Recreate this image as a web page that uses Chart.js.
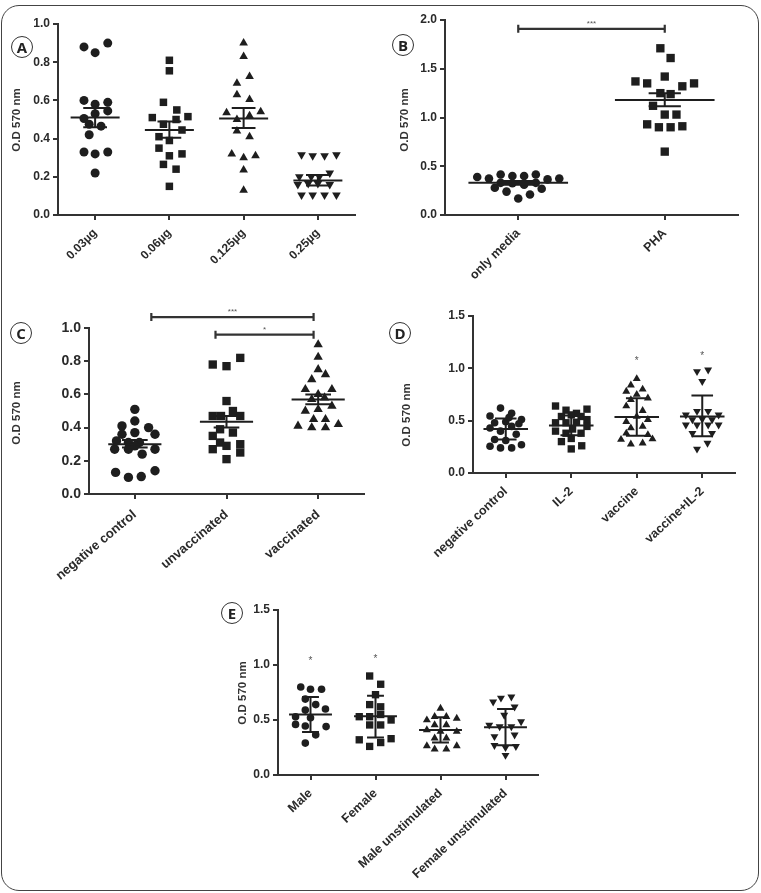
<!DOCTYPE html>
<html>
<head>
<meta charset="utf-8">
<script src="https://cdn.jsdelivr.net/npm/chart.js@4.4.0/dist/chart.umd.min.js"></script>
<style>
  html, body { margin:0; padding:0; background:#fff; }
  body { width:761px; height:893px; position:relative; overflow:hidden; }
  .frame { position:absolute; left:1px; top:5px; width:758px; height:886px; border:1.5px solid #444; border-radius:18px; box-sizing:border-box; }
  canvas { position:absolute; }
  .tag { position:absolute; width:20px; height:20px; border:1.5px solid #333; border-radius:50%;
         font-family:"Open Sans", sans-serif; font-weight:700; font-size:15px; line-height:20px;
         text-align:center; color:#222; background:#fff; }
</style>
</head>
<body>
<div class="frame"></div>
<canvas id="cA" width="380" height="280" style="left:0px;top:0px"></canvas>
<canvas id="cB" width="380" height="300" style="left:380px;top:0px"></canvas>
<canvas id="cC" width="380" height="300" style="left:0px;top:295px"></canvas>
<canvas id="cD" width="380" height="300" style="left:380px;top:295px"></canvas>
<canvas id="cE" width="360" height="295" style="left:200px;top:595px"></canvas>
<div class="tag" style="left:11px;top:36px">A</div>
<div class="tag" style="left:392px;top:34px">B</div>
<div class="tag" style="left:10px;top:322px">C</div>
<div class="tag" style="left:389px;top:322px">D</div>
<div class="tag" style="left:221px;top:602px">E</div>
<script>
// ---------------- DATA ----------------
// Panel A
const A_categories = ['0.03µg', '0.06µg', '0.125µg', '0.25µg'];
const A_g1 = [0.88,0.85,0.90,0.60,0.58,0.59,0.545,0.505,0.53,0.475,0.465,0.42,0.33,0.32,0.33,0.22];
const A_g1_jitter = [-0.15,0,0.17,-0.15,0,0.17,0.17,-0.15,0,-0.08,0.08,-0.08,-0.15,0,0.17,0];
const A_g2 = [0.81,0.755,0.59,0.55,0.51,0.515,0.475,0.50,0.445,0.41,0.39,0.35,0.31,0.32,0.265,0.24,0.15];
const A_g2_jitter = [0,0,-0.08,0.1,-0.23,0.25,-0.08,0.09,0.17,-0.14,0,-0.14,0,0.17,-0.08,0.09,0];
const A_g3 = [0.90,0.83,0.725,0.69,0.63,0.605,0.535,0.54,0.52,0.50,0.44,0.41,0.32,0.30,0.31,0.235,0.13];
const A_g3_jitter = [0,0,0.08,-0.09,-0.09,0.08,-0.23,0.23,0.08,-0.09,-0.09,0.08,-0.16,0,0.16,0,0];
const A_g4 = [0.315,0.31,0.31,0.315,0.22,0.20,0.20,0.20,0.16,0.165,0.165,0.16,0.105,0.105,0.105,0.105];
const A_g4_jitter = [-0.22,-0.07,0.09,0.25,0.16,-0.25,-0.09,0.02,-0.27,-0.13,0,0.16,-0.22,-0.07,0.09,0.25];
const A_mean = [0.51, 0.445, 0.505, 0.18];
const A_errLow = [0.46, 0.405, 0.455, 0.155];
const A_errHigh = [0.56, 0.49, 0.56, 0.21];
const A_yTicks = [0, 0.2, 0.4, 0.6, 0.8, 1.0];

// Panel B
const B_categories = ['only media', 'PHA'];
const B_g1 = [0.39,0.375,0.415,0.40,0.40,0.415,0.365,0.375,0.33,0.325,0.31,0.33,0.28,0.24,0.17,0.21,0.27];
const B_g1_jitter = [-0.28,-0.2,-0.12,-0.04,0.04,0.12,0.2,0.28,-0.12,-0.04,0.04,0.12,-0.16,-0.08,0,0.08,0.16];
const B_g2 = [1.71,1.61,1.42,1.37,1.35,1.35,1.32,1.25,1.24,1.12,1.03,1.03,0.93,0.90,0.90,0.91,0.65];
const B_g2_jitter = [-0.03,0.04,0,-0.2,-0.12,0.2,0.12,-0.03,0.04,-0.08,0,0.08,-0.12,-0.04,0.04,0.12,0];
const B_mean = [0.33, 1.18];
const B_errLow = [0.31, 1.115];
const B_errHigh = [0.35, 1.25];
const B_yTicks = [0, 0.5, 1.0, 1.5, 2.0];
const B_brackets = [{ from: 0, to: 1, y: 1.91, label: '***' }];

// Panel C
const C_categories = ['negative control', 'unvaccinated', 'vaccinated'];
const C_g1 = [0.51,0.41,0.44,0.40,0.36,0.37,0.36,0.32,0.31,0.31,0.27,0.27,0.29,0.27,0.24,0.13,0.10,0.105,0.14];
const C_g1_jitter = [0,-0.14,0,0.15,-0.14,0,0.22,-0.2,-0.07,0.05,-0.22,-0.07,0,0.22,0.08,-0.21,-0.07,0.07,0.22];
const C_g2 = [0.78,0.77,0.82,0.56,0.47,0.47,0.50,0.47,0.39,0.37,0.35,0.31,0.27,0.29,0.30,0.25,0.21];
const C_g2_jitter = [-0.15,0,0.15,0,-0.15,-0.06,0.07,0.15,-0.07,0.07,-0.15,-0.07,-0.15,0,0.15,0.15,0];
const C_g3 = [0.90,0.825,0.75,0.72,0.69,0.63,0.63,0.60,0.57,0.58,0.50,0.53,0.51,0.45,0.45,0.41,0.40,0.40,0.42];
const C_g3_jitter = [0,0,0,0.08,-0.07,-0.14,0.15,0,-0.07,0.07,-0.14,0.15,0,-0.05,0.08,-0.22,-0.07,0.08,0.22];
const C_mean = [0.30, 0.435, 0.57];
const C_errLow = [0.28, 0.40, 0.54];
const C_errHigh = [0.325, 0.47, 0.60];
const C_yTicks = [0, 0.2, 0.4, 0.6, 0.8, 1.0];
const C_brackets = [{ from: 0.18, to: 1.95, y: 1.066, label: '***' }, { from: 0.88, to: 1.95, y: 0.96, label: '*' }];

// Panel D
const D_categories = ['negative control', 'IL-2', 'vaccine', 'vaccine+IL-2'];
const D_g1 = [0.62,0.545,0.57,0.51,0.48,0.49,0.445,0.43,0.40,0.37,0.32,0.31,0.255,0.24,0.24,0.27,0.53,0.47];
const D_g1_jitter = [-0.08,-0.24,0.09,0.24,-0.17,0,0.09,-0.24,-0.08,0.16,-0.17,0,-0.24,-0.08,0.09,0.24,0.05,0.2];
const D_g2 = [0.64,0.60,0.57,0.61,0.54,0.555,0.54,0.48,0.48,0.485,0.51,0.40,0.38,0.38,0.30,0.33,0.26,0.23,0.445,0.42];
const D_g2_jitter = [-0.24,-0.08,0.08,0.24,-0.15,0,0.15,-0.24,-0.08,0.08,0.24,-0.24,-0.08,0.15,-0.15,0,0.16,0,0.24,0.02];
const D_g3 = [0.90,0.84,0.78,0.80,0.75,0.70,0.715,0.64,0.595,0.54,0.49,0.51,0.43,0.445,0.38,0.365,0.32,0.325,0.275,0.285];
const D_g3_jitter = [0,-0.09,-0.16,0.09,0,-0.09,0.17,-0.16,0.09,0,-0.16,0.17,-0.09,0.09,-0.16,0.17,-0.24,0.24,-0.09,0.09];
const D_g4 = [0.97,0.985,0.875,0.59,0.59,0.555,0.555,0.51,0.515,0.51,0.46,0.46,0.46,0.46,0.38,0.38,0.285,0.23];
const D_g4_jitter = [-0.08,0.09,0,-0.08,0.09,-0.25,0.25,-0.15,0,0.15,-0.25,-0.08,0.09,0.25,-0.15,0.15,0.08,-0.08];
const D_mean = [0.42, 0.455, 0.535, 0.54];
const D_errLow = [0.32, 0.36, 0.355, 0.35];
const D_errHigh = [0.52, 0.55, 0.715, 0.74];
const D_yTicks = [0, 0.5, 1.0, 1.5];
const D_stars = [{ cat: 2, y: 1.07, label: '*' }, { cat: 3, y: 1.12, label: '*' }];

// Panel E
const E_categories = ['Male', 'Female', 'Male unstimulated', 'Female unstimulated'];
const E_g1 = [0.80,0.78,0.78,0.69,0.64,0.59,0.60,0.53,0.52,0.46,0.445,0.44,0.365,0.29];
const E_g1_jitter = [-0.15,0,0.17,-0.08,0.08,-0.08,0.23,-0.23,0,-0.23,-0.08,0.24,0.08,-0.08];
const E_g2 = [0.90,0.825,0.73,0.64,0.62,0.53,0.53,0.55,0.50,0.455,0.455,0.32,0.295,0.33,0.26];
const E_g2_jitter = [-0.09,0.08,0,-0.09,0.08,-0.25,-0.09,0.08,0.24,-0.09,0.08,-0.25,0.08,0.24,-0.09];
const E_g3 = [0.605,0.50,0.53,0.53,0.515,0.455,0.455,0.41,0.395,0.395,0.335,0.335,0.265,0.235,0.235,0.265];
const E_g3_jitter = [0,-0.21,-0.09,0.09,0.25,-0.09,0.09,-0.21,0,0.25,-0.09,0.09,-0.21,-0.09,0.09,0.25];
const E_g4 = [0.70,0.71,0.665,0.62,0.545,0.455,0.44,0.44,0.485,0.365,0.35,0.27,0.26,0.25,0.18];
const E_g4_jitter = [-0.07,0.09,-0.19,0.14,-0.02,-0.25,-0.09,0.09,0.24,0.14,-0.17,-0.17,0.16,0,0];
const E_mean = [0.55, 0.535, 0.41, 0.435];
const E_errLow = [0.39, 0.34, 0.295, 0.27];
const E_errHigh = [0.71, 0.72, 0.525, 0.60];
const E_yTicks = [0, 0.5, 1.0, 1.5];
const E_stars = [{ cat: 0, y: 1.03, label: '*' }, { cat: 1, y: 1.055, label: '*' }];

const yTitle = 'O.D 570 nm';

// ---------------- DRAWING ----------------
const INK = '#1e1e1e';
const AXIS = '#333';
const FONT = '"Liberation Sans", Arial, sans-serif';

const extrasPlugin = {
  id: 'extras',
  afterDatasetsDraw(chart, args, o) {
    const ctx = chart.ctx, xs = chart.scales.x, ys = chart.scales.y;
    ctx.save();
    ctx.strokeStyle = INK;
    ctx.lineWidth = 2;
    o.mean.forEach((m, i) => {
      const yM = ys.getPixelForValue(m);
      ctx.beginPath();
      ctx.moveTo(xs.getPixelForValue(i - o.meanHalf), yM);
      ctx.lineTo(xs.getPixelForValue(i + o.meanHalf), yM);
      const xc = xs.getPixelForValue(i);
      const yl = ys.getPixelForValue(o.errLow[i]), yh = ys.getPixelForValue(o.errHigh[i]);
      ctx.moveTo(xc, yl); ctx.lineTo(xc, yh);
      ctx.moveTo(xs.getPixelForValue(i - o.capHalf), yl); ctx.lineTo(xs.getPixelForValue(i + o.capHalf), yl);
      ctx.moveTo(xs.getPixelForValue(i - o.capHalf), yh); ctx.lineTo(xs.getPixelForValue(i + o.capHalf), yh);
      ctx.stroke();
    });
    ctx.restore();
  },
  afterDraw(chart, args, o) {
    const ctx = chart.ctx, xs = chart.scales.x, ys = chart.scales.y;
    ctx.save();
    ctx.translate(o.titleX, o.titleY);
    ctx.rotate(-Math.PI / 2);
    ctx.fillStyle = AXIS;
    ctx.font = 'bold ' + o.titleSize + 'px ' + FONT;
    ctx.textAlign = 'center';
    ctx.textBaseline = 'middle';
    ctx.fillText(yTitle, 0, 0);
    ctx.restore();
    ctx.save();
    ctx.strokeStyle = '#333';
    ctx.fillStyle = '#555';
    (o.brackets || []).forEach(b => {
      const x1 = xs.getPixelForValue(b.from), x2 = xs.getPixelForValue(b.to), y = ys.getPixelForValue(b.y);
      ctx.lineWidth = 2.2;
      ctx.beginPath();
      ctx.moveTo(x1, y); ctx.lineTo(x2, y);
      ctx.moveTo(x1, y - 4); ctx.lineTo(x1, y + 4);
      ctx.moveTo(x2, y - 4); ctx.lineTo(x2, y + 4);
      ctx.stroke();
      ctx.font = '8px ' + FONT;
      ctx.textAlign = 'center';
      ctx.textBaseline = 'bottom';
      ctx.fillText(b.label, (x1 + x2) / 2, y - 1);
    });
    (o.stars || []).forEach(s => {
      ctx.font = '10px ' + FONT;
      ctx.textAlign = 'center';
      ctx.textBaseline = 'middle';
      ctx.fillText(s.label, xs.getPixelForValue(s.cat), ys.getPixelForValue(s.y));
    });
    ctx.restore();
  }
};

function makePanel(id, p) {
  const styles = ['circle', 'rect', 'triangle', 'triangle'];
  const rotations = [0, 0, 0, 180];
  const datasets = p.groups.map((g, i) => ({
    data: g.map((v, k) => ({ x: i + p.jitters[i][k], y: v })),
    pointStyle: styles[i],
    pointRotation: rotations[i],
    pointRadius: p.radius[i],
    pointBackgroundColor: INK,
    pointBorderColor: INK,
    pointBorderWidth: 0,
    showLine: false
  }));
  const n = p.categories.length;
  new Chart(document.getElementById(id), {
    type: 'scatter',
    data: { datasets },
    options: {
      responsive: false,
      animation: false,
      events: [],
      clip: false,
      layout: { padding: { left: 0, top: p.padTop, right: p.padRight, bottom: 0 } },
      plugins: {
        legend: { display: false },
        tooltip: { enabled: false },
        extras: {
          mean: p.mean, errLow: p.errLow, errHigh: p.errHigh,
          meanHalf: p.meanHalf, capHalf: p.capHalf,
          brackets: p.brackets, stars: p.stars,
          titleX: p.titleX, titleY: p.titleY, titleSize: 11.5
        }
      },
      scales: {
        x: {
          type: 'linear', min: -0.5, max: n - 0.5,
          afterBuildTicks: s => { s.ticks = p.categories.map((c, i) => ({ value: i })); },
          afterFit: s => { s.height = p.xHeight; },
          border: { display: true, color: AXIS, width: 2 },
          grid: { display: true, drawOnChartArea: false, drawTicks: true, tickLength: 5, color: AXIS, lineWidth: 2 },
          ticks: {
            autoSkip: false, minRotation: p.rot, maxRotation: p.rot, padding: p.xPad,
            color: '#2a2a2a', font: { family: FONT, weight: 'bold', size: p.xFont },
            callback: v => p.categories[v]
          }
        },
        y: {
          min: 0, max: p.yTicks[p.yTicks.length - 1],
          afterBuildTicks: s => { s.ticks = p.yTicks.map(v => ({ value: v })); },
          afterFit: s => { s.width = p.yWidth; },
          border: { display: true, color: AXIS, width: 2 },
          grid: { display: true, drawOnChartArea: false, drawTicks: true, tickLength: 5, color: AXIS, lineWidth: 2 },
          ticks: {
            padding: 3, color: '#2a2a2a', font: { family: FONT, weight: 'bold', size: p.yFont },
            callback: v => Number(v).toFixed(1)
          }
        }
      }
    },
    plugins: [extrasPlugin]
  });
}

makePanel('cA', {
  categories: A_categories, groups: [A_g1, A_g2, A_g3, A_g4],
  jitters: [A_g1_jitter, A_g2_jitter, A_g3_jitter, A_g4_jitter],
  mean: A_mean, errLow: A_errLow, errHigh: A_errHigh, yTicks: A_yTicks,
  meanHalf: 0.33, capHalf: 0.16, radius: [4.5, 5.3, 5, 5],
  padTop: 24, padRight: 25, yWidth: 58, xHeight: 65,
  rot: 45, xPad: 6, xFont: 12, yFont: 12, titleX: 17, titleY: 120
});
makePanel('cB', {
  categories: B_categories, groups: [B_g1, B_g2],
  jitters: [B_g1_jitter, B_g2_jitter],
  mean: B_mean, errLow: B_errLow, errHigh: B_errHigh, yTicks: B_yTicks,
  brackets: B_brackets,
  meanHalf: 0.34, capHalf: 0.11, radius: [4.3, 5.9],
  padTop: 20, padRight: 22, yWidth: 65, xHeight: 85,
  rot: 45, xPad: 6, xFont: 12.5, yFont: 12, titleX: 25, titleY: 120
});
makePanel('cC', {
  categories: C_categories, groups: [C_g1, C_g2, C_g3],
  jitters: [C_g1_jitter, C_g2_jitter, C_g3_jitter],
  mean: C_mean, errLow: C_errLow, errHigh: C_errHigh, yTicks: C_yTicks,
  brackets: C_brackets,
  meanHalf: 0.29, capHalf: 0.14, radius: [4.7, 5.9, 5.4],
  padTop: 33, padRight: 16, yWidth: 89, xHeight: 101,
  rot: 40, xPad: 8, xFont: 13, yFont: 14, titleX: 17, titleY: 118
});
makePanel('cD', {
  categories: D_categories, groups: [D_g1, D_g2, D_g3, D_g4],
  jitters: [D_g1_jitter, D_g2_jitter, D_g3_jitter, D_g4_jitter],
  mean: D_mean, errLow: D_errLow, errHigh: D_errHigh, yTicks: D_yTicks,
  stars: D_stars,
  meanHalf: 0.34, capHalf: 0.165, radius: [3.8, 5.2, 4.6, 4.6],
  padTop: 21, padRight: 25, yWidth: 93, xHeight: 122,
  rot: 43, xPad: 6, xFont: 12.5, yFont: 12, titleX: 27, titleY: 120
});
makePanel('cE', {
  categories: E_categories, groups: [E_g1, E_g2, E_g3, E_g4],
  jitters: [E_g1_jitter, E_g2_jitter, E_g3_jitter, E_g4_jitter],
  mean: E_mean, errLow: E_errLow, errHigh: E_errHigh, yTicks: E_yTicks,
  stars: E_stars,
  meanHalf: 0.33, capHalf: 0.13, radius: [3.8, 5.2, 4.6, 4.6],
  padTop: 15, padRight: 22, yWidth: 78, xHeight: 115,
  rot: 43, xPad: 6, xFont: 12.5, yFont: 12, titleX: 43, titleY: 98
});
</script>
</body>
</html>
